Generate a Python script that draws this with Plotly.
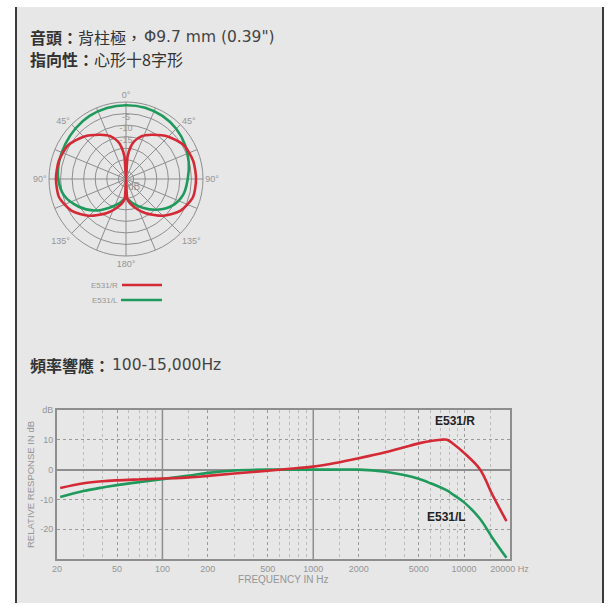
import numpy as np
import plotly.graph_objects as go

W, H = 615, 616

# ---------------- data ----------------
# polar pattern (angle clockwise from front, degrees) -> level in dB
green_angle_deg = [0, 15, 30, 45, 60, 75, 90, 105, 120, 135, 150, 165, 180,
                   195, 210, 225, 240, 255, 270, 285, 300, 315, 330, 345, 360]
green_polar_db = [-1.4, -1.4, -1.8, -2.6, -3.8, -5.2, -6.6, -7.6, -10.2, -14.5, -19.0, -22.5, -25.0,
                  -22.5, -19.0, -14.0, -9.5, -5.6, -4.0, -3.4, -3.0, -2.4, -1.8, -1.5, -1.4]
red_angle_deg = [0, 4, 8, 12, 20, 30, 45, 60, 75, 90, 105, 120, 135, 150, 160, 170, 176,
                 180, 184, 190, 200, 210, 225, 240, 255, 270, 285, 300, 315, 330, 340, 348, 352, 356, 360]
red_polar_db = [-33.3, -23.5, -19.5, -16.8, -13.6, -11.2, -7.4, -4.3, -3.2, -3.0, -3.3, -6.0, -10.8,
                -16.2, -19.5, -22.5, -24.5,
                -33.3, -24.5, -22.5, -19.5, -16.2, -10.8, -6.0, -3.3, -3.0, -3.2, -4.3, -7.4, -11.2,
                -13.6, -16.8, -19.5, -23.5, -33.3]
polar_ring_db = [-30, -25, -20, -15, -10, -5, 0]
polar_range_db = [-33.3, 0]
polar_spoke_deg = [i * 22.5 for i in range(16)]
polar_spoke_text = ["0°", "", "45°", "", "90°", "", "135°", "", "180°", "", "135°", "", "90°", "", "45°", ""]
polar_label_text = ["-5", "-10", "-15"]
polar_label_db = [-6.7, -11.7, -16.8]

# frequency response
freq_hz = [21, 30, 40, 50, 70, 100, 150, 200, 300, 500, 700, 1000, 1400, 2000, 3000,
           4000, 5000, 6000, 7000, 7700, 8500, 10000, 12700, 15500, 19100]
red_resp_db = [-6.2, -4.6, -3.9, -3.6, -3.3, -3.0, -2.6, -2.1, -1.3, -0.4, 0.3, 1.0, 2.2, 3.8, 5.8,
               7.5, 8.8, 9.6, 10.0, 10.0, 8.6, 5.6, 0.2, -8.7, -17.3]
green_resp_db = [-9.2, -7.2, -6.0, -5.2, -4.2, -3.2, -2.0, -1.1, -0.3, 0.0, 0.0, 0.0, 0.0, 0.0, -0.7,
                 -1.8, -3.1, -4.6, -6.0, -7.0, -8.5, -11.0, -16.4, -23.1, -29.6]
x_tick_vals = [20, 50, 100, 200, 500, 1000, 2000, 5000, 10000, 20000]
x_tick_text = ["20", "50", "100", "200", "500", "1000", "2000", "5000", "10000", "20000 Hz"]
x_minor_vals = [30, 40, 60, 70, 80, 90, 150, 300, 400, 600, 700, 800, 900,
                1500, 3000, 4000, 6000, 7000, 8000, 9000, 15000]
decade_lines_hz = [100, 1000]
y_tick_vals = [-20, -10, 0, 10, 20]
y_tick_text = ["-20", "-10", "0", "10", "dB"]
y_range = [-30, 20]

RED = "#d42a36"
GREEN = "#1f9a5c"
GRID = "#8e8e8e"
LABEL = "#959595"
TXT_FONT = "DejaVu Sans, Noto Sans CJK TC, sans-serif"
CJK_FONT = "Noto Sans CJK TC, DejaVu Sans, sans-serif"
CH_FONT = "Liberation Sans, Arial, sans-serif"

fig = go.Figure()

# ---------------- polar ----------------
fig.add_trace(go.Scatterpolar(r=green_polar_db, theta=green_angle_deg, mode="lines",
                              line=dict(color=GREEN, width=2.6, shape="spline", smoothing=1),
                              subplot="polar", showlegend=False, hoverinfo="skip"))
fig.add_trace(go.Scatterpolar(r=red_polar_db, theta=red_angle_deg, mode="lines",
                              line=dict(color=RED, width=2.6, shape="spline", smoothing=0.7),
                              subplot="polar", showlegend=False, hoverinfo="skip"))
fig.add_trace(go.Scatterpolar(r=polar_label_db, theta=[0] * len(polar_label_db), mode="text",
                              text=polar_label_text, textfont=dict(size=9, color=LABEL, family=CH_FONT),
                              subplot="polar", showlegend=False, hoverinfo="skip"))

# ---------------- frequency response ----------------
vx, vy = [], []
for f in decade_lines_hz:
    vx += [f, f, None]
    vy += [y_range[0], y_range[1], None]
fig.add_trace(go.Scatter(x=vx, y=vy, mode="lines", line=dict(color=GRID, width=1.5),
                         showlegend=False, hoverinfo="skip"))
fig.add_trace(go.Scatter(x=freq_hz, y=green_resp_db, mode="lines",
                         line=dict(color=GREEN, width=2.6, shape="spline"), showlegend=False))
fig.add_trace(go.Scatter(x=freq_hz, y=red_resp_db, mode="lines",
                         line=dict(color=RED, width=2.6, shape="spline"), showlegend=False))

pdx = [49 / W, (49 + 154) / W]
pdy = [1 - 256 / H, 1 - 102 / H]

shapes = [
    dict(type="rect", xref="paper", yref="paper", x0=16 / W, x1=604 / W, y0=1 - 603 / H, y1=1 - 7 / H,
         fillcolor="#e7e7e7", line=dict(width=0), layer="below"),
    dict(type="line", xref="paper", yref="paper", x0=16 / W, x1=16 / W, y0=1 - 603 / H, y1=1 - 7 / H,
         line=dict(color="#3a3a3a", width=2), layer="below"),
    dict(type="line", xref="paper", yref="paper", x0=603 / W, x1=603 / W, y0=1 - 603 / H, y1=1 - 7 / H,
         line=dict(color="#3a3a3a", width=2), layer="below"),
    dict(type="line", xref="paper", yref="paper", x0=122 / W, x1=162 / W, y0=1 - 285 / H, y1=1 - 285 / H,
         line=dict(color=RED, width=2.5)),
    dict(type="line", xref="paper", yref="paper", x0=121 / W, x1=162 / W, y0=1 - 300 / H, y1=1 - 300 / H,
         line=dict(color=GREEN, width=2.5)),
]

def ann(x, y, text, size=15, color="#333", font=TXT_FONT, xanchor="left"):
    return dict(x=x / W, y=1 - y / H, xref="paper", yref="paper", xanchor=xanchor, yanchor="middle",
                text=text, showarrow=False, font=dict(size=size, color=color, family=font))

annotations = [
    ann(28, 37, "<b>音頭：</b>背柱極，", size=16, font=CJK_FONT),
    ann(142, 37, "Φ9.7 mm (0.39\")", size=15.5, color="#444"),
    ann(28, 59, "<b>指向性：</b>心形十8字形", size=16, font=CJK_FONT),
    ann(28, 365, "<b>頻率響應：</b>", size=16, font=CJK_FONT),
    ann(110, 365, "100-15,000Hz", size=15.5, color="#444"),
    ann(120, 285, "E531/R", size=8, color=LABEL, font=CH_FONT, xanchor="right"),
    ann(120, 300, "E531/L", size=8, color=LABEL, font=CH_FONT, xanchor="right"),
    dict(x=(pdx[0] + pdx[1]) / 2, y=(pdy[0] + pdy[1]) / 2, xref="paper", yref="paper",
         text="dB", showarrow=False, font=dict(size=10, color=LABEL, family=CH_FONT)),
    dict(x=np.log10(8670), y=16.3, xref="x", yref="y", text="<b>E531/R</b>", showarrow=False,
         font=dict(size=12, color="#222", family=CH_FONT)),
    dict(x=np.log10(7640), y=-15.9, xref="x", yref="y", text="<b>E531/L</b>", showarrow=False,
         font=dict(size=12, color="#222", family=CH_FONT)),
]

fig.update_layout(
    width=W, height=H, margin=dict(l=0, r=0, t=0, b=0),
    paper_bgcolor="white", plot_bgcolor="rgba(0,0,0,0)",
    shapes=shapes, annotations=annotations, showlegend=False,
    polar=dict(
        domain=dict(x=pdx, y=pdy), bgcolor="rgba(0,0,0,0)",
        radialaxis=dict(range=polar_range_db, tickvals=polar_ring_db, showticklabels=False, ticks="",
                        showline=False, gridcolor=GRID, gridwidth=1),
        angularaxis=dict(direction="clockwise", rotation=90, tickmode="array",
                         tickvals=polar_spoke_deg, ticktext=polar_spoke_text, ticks="",
                         showline=True, linecolor=GRID, linewidth=1, gridcolor=GRID, gridwidth=1,
                         tickfont=dict(size=9, color=LABEL, family=CH_FONT)),
    ),
    xaxis=dict(type="log", domain=[57 / W, 509.5 / W], range=[np.log10(20), np.log10(20000)],
               tickmode="array", tickvals=x_tick_vals, ticktext=x_tick_text, ticks="",
               showgrid=True, gridcolor="#9a9a9a", griddash="dot", gridwidth=1,
               minor=dict(tickmode="array", tickvals=x_minor_vals, showgrid=True, gridcolor="#bdbdbd",
                          griddash="dot", gridwidth=1, ticks=""),
               showline=True, mirror=True, linecolor=GRID, linewidth=2, zeroline=False,
               tickfont=dict(size=9, color=LABEL, family=CH_FONT),
               title=dict(text="FREQUENCY IN Hz", font=dict(size=10, color=LABEL, family=CH_FONT),
                          standoff=2),
               automargin=False, anchor="y"),
    yaxis=dict(domain=[1 - 559 / H, 1 - 410 / H], range=y_range, tickmode="array",
               tickvals=y_tick_vals, ticktext=y_tick_text, ticks="",
               showgrid=True, gridcolor="#9a9a9a", griddash="dot", gridwidth=1,
               zeroline=True, zerolinecolor=GRID, zerolinewidth=1.5,
               showline=True, mirror=True, linecolor=GRID, linewidth=2,
               tickfont=dict(size=9, color=LABEL, family=CH_FONT),
               title=dict(text="RELATIVE RESPONSE IN dB", font=dict(size=9.5, color=LABEL, family=CH_FONT),
                          standoff=4),
               automargin=False, anchor="x"),
)

fig.write_html("out.html", config={"displayModeBar": False},
               post_script="document.body.style.margin='0px';")
